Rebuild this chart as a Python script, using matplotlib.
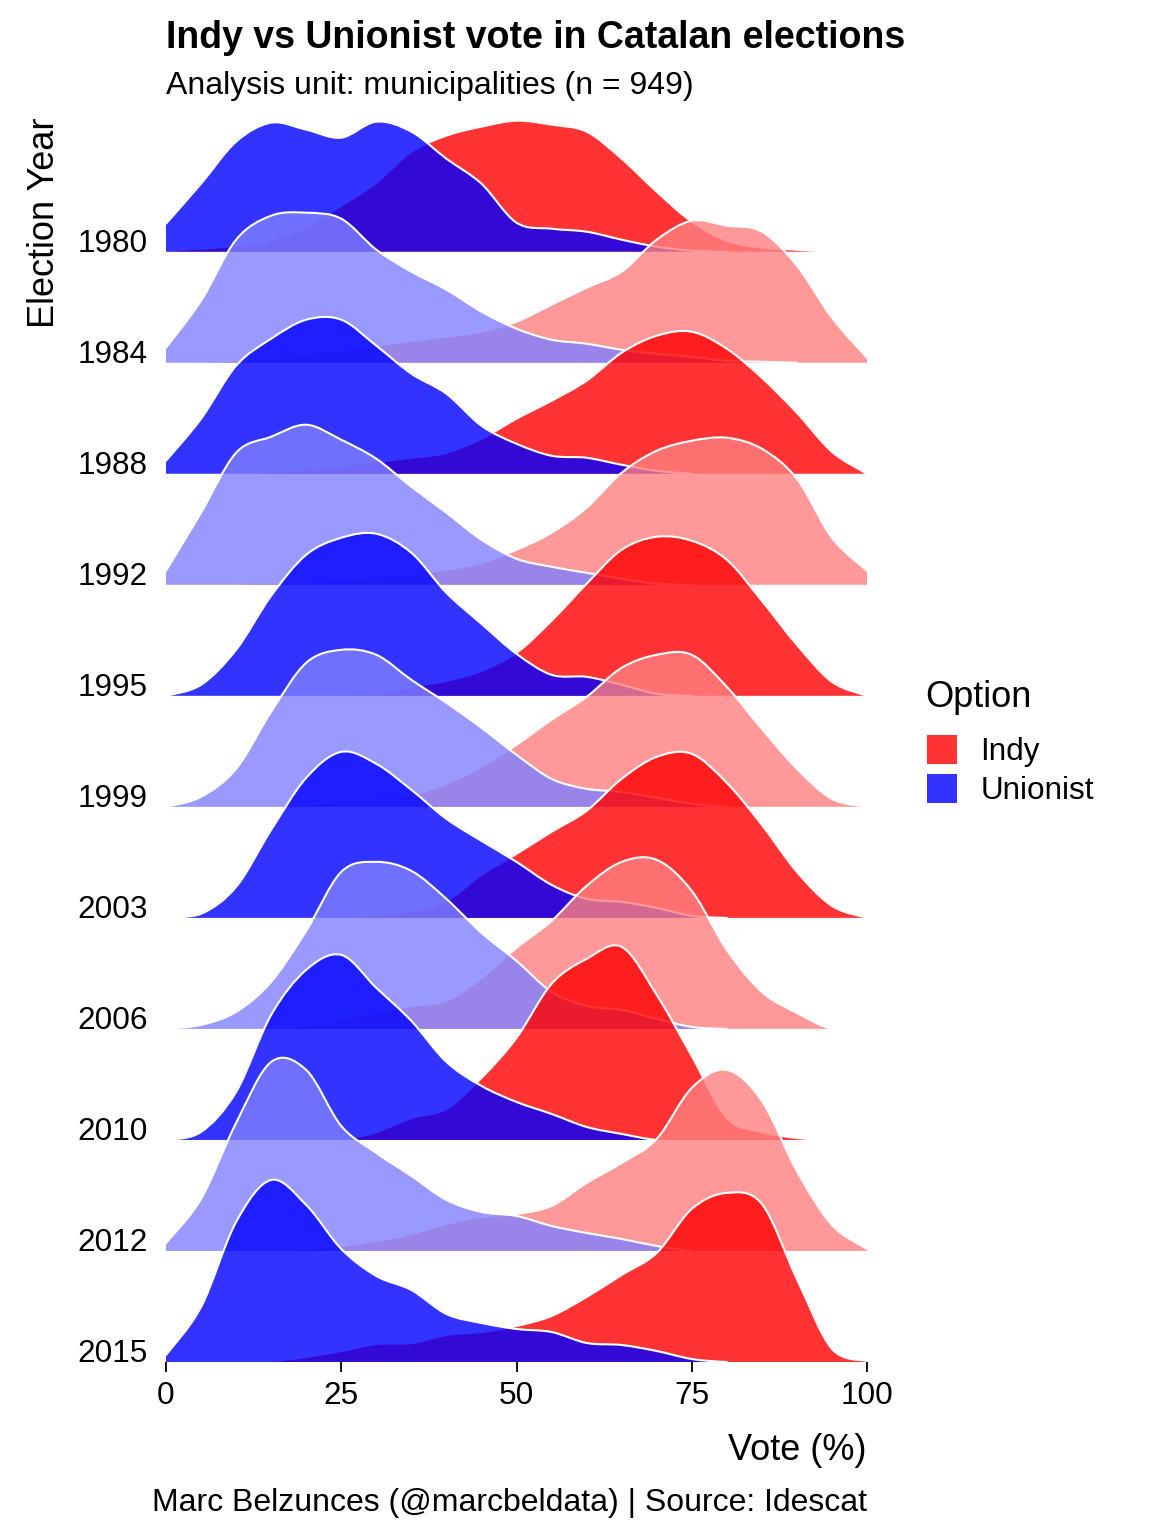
import numpy as np
import matplotlib
matplotlib.use("Agg")
import matplotlib.pyplot as plt
from matplotlib.patches import Patch, PathPatch
from matplotlib.path import Path

plt.rcParams["font.family"] = ["Liberation Sans", "DejaVu Sans"]

# vote share grid (%) where the density curves were read
vote = [0, 5, 10, 15, 20, 25, 30, 35, 40, 45, 50, 55, 60, 65, 70, 75, 80, 85, 90, 95, 100]

years = [1980, 1984, 1988, 1992, 1995, 1999, 2003, 2006, 2010, 2012, 2015]

# density heights (arbitrary units, ~111 units = one ridge step), one row per year
indy_density = [
    [1, 3, 6, 12, 25, 46, 69, 100, 116, 125, 131, 127, 120, 93, 60, 30, 11, 4, 2, 0, 0],
    [0, 1, 2, 4, 8, 13, 17, 22, 26, 31, 41, 58, 75, 91, 123, 142, 137, 131, 97, 45, 5],
    [0, 0, 1, 2, 4, 8, 12, 16, 21, 35, 55, 73, 93, 121, 138, 142, 125, 96, 61, 22, 0],
    [0, 0, 1, 2, 3, 5, 8, 11, 15, 22, 35, 52, 77, 112, 134, 144, 147, 136, 106, 47, 14],
    [0, 0, 0, 0, 0, 1, 2, 9, 15, 25, 43, 75, 112, 146, 159, 155, 136, 95, 51, 14, 0],
    [0, 0, 0, 0, 2, 6, 9, 12, 23, 40, 62, 87, 110, 139, 152, 152, 120, 78, 38, 8, 0],
    [0, 0, 0, 0, 0, 1, 3, 7, 17, 43, 64, 86, 107, 139, 161, 164, 135, 93, 46, 12, 0],
    [0, 0, 0, 0, 3, 9, 17, 23, 28, 51, 81, 108, 143, 167, 169, 138, 79, 37, 16, 0, 0],
    [0, 0, 0, 0, 0, 0, 8, 22, 31, 62, 102, 156, 181, 193, 145, 84, 22, 8, 2, 0, 0],
    [0, 0, 0, 0, 2, 5, 10, 17, 27, 34, 37, 45, 68, 88, 112, 163, 181, 150, 80, 26, 2],
    [0, 0, 0, 1, 5, 11, 18, 19, 27, 30, 36, 46, 65, 87, 109, 153, 169, 158, 83, 13, 1],
]

unionist_density = [
    [28, 68, 110, 129, 122, 114, 130, 120, 93, 68, 29, 23, 20, 12, 5, 1, 0, 0, 0, 0, 0],
    [15, 62, 123, 147, 150, 144, 113, 91, 73, 51, 34, 23, 19, 13, 9, 6, 2, 1, 0, 0, 0],
    [13, 55, 108, 135, 154, 154, 128, 100, 80, 48, 30, 18, 16, 9, 3, 0, 0, 0, 0, 0, 0],
    [14, 72, 132, 148, 160, 145, 126, 98, 72, 45, 26, 18, 12, 6, 1, 0, 0, 0, 0, 0, 0],
    [0, 11, 46, 100, 141, 158, 162, 143, 103, 72, 42, 21, 19, 11, 2, 0, 0, 0, 0, 0, 0],
    [0, 10, 38, 95, 144, 157, 152, 127, 104, 79, 52, 28, 18, 15, 9, 3, 0, 0, 0, 0, 0],
    [0, 4, 31, 88, 140, 166, 154, 128, 99, 77, 56, 33, 19, 16, 10, 2, 0, 0, 0, 0, 0],
    [0, 4, 17, 47, 98, 157, 167, 158, 130, 96, 68, 37, 23, 19, 10, 2, 0, 0, 0, 0, 0],
    [0, 8, 48, 125, 170, 185, 152, 119, 78, 54, 38, 26, 13, 6, 0, 0, 0, 0, 0, 0, 0],
    [8, 52, 128, 189, 181, 125, 98, 75, 51, 39, 35, 25, 18, 12, 5, 0, 0, 0, 0, 0, 0],
    [7, 55, 140, 182, 157, 113, 86, 72, 48, 39, 33, 30, 19, 17, 11, 3, 0, 0, 0, 0, 0],
]

# cyclical fills: dark / light for alternating years
indy_colors = ["#ff0000", "#ff8080"]
unionist_colors = ["#0000ff", "#8080ff"]


def bezier_segments(x, y, base):
    # cubic bezier control points through the read points (Catmull-Rom style)
    n = len(x)
    segs = []
    for i in range(n - 1):
        p0 = (x[max(i - 1, 0)], y[max(i - 1, 0)])
        p1 = (x[i], y[i])
        p2 = (x[i + 1], y[i + 1])
        p3 = (x[min(i + 2, n - 1)], y[min(i + 2, n - 1)])
        c1 = (p1[0] + (p2[0] - p0[0]) / 6, max(p1[1] + (p2[1] - p0[1]) / 6, base))
        c2 = (p2[0] - (p3[0] - p1[0]) / 6, max(p2[1] - (p3[1] - p1[1]) / 6, base))
        segs.append((p1, c1, c2, p2))
    return segs


W, H = 1152, 1536
fig = plt.figure(figsize=(W / 100, H / 100), dpi=100)
ax = fig.add_axes([166 / W, 174 / H, 701 / W, 1262 / H])

scale = 1 / 111.0
x = np.array(vote, dtype=float)
n = len(years)
z = 1
for i, year in enumerate(years):
    base = n - 1 - i
    for dens, cols in ((indy_density, indy_colors), (unionist_density, unionist_colors)):
        d = np.array(dens[i], dtype=float)
        top = base + d * scale
        segs = bezier_segments(x, top, base)

        verts = [(x[0], base), (x[0], top[0])]
        codes = [Path.MOVETO, Path.LINETO]
        for p1, c1, c2, p2 in segs:
            verts += [c1, c2, p2]
            codes += [Path.CURVE4] * 3
        verts += [(x[-1], base), (x[0], base)]
        codes += [Path.LINETO, Path.CLOSEPOLY]
        ax.add_patch(PathPatch(Path(verts, codes), facecolor=cols[i % 2],
                               alpha=0.8, linewidth=0, zorder=z))

        # white outline only where the ridge is above its baseline
        lverts, lcodes = [], []
        open_seg = False
        for k, (p1, c1, c2, p2) in enumerate(segs):
            if d[k] > 0 or d[k + 1] > 0:
                if not open_seg:
                    lverts.append(p1)
                    lcodes.append(Path.MOVETO)
                    open_seg = True
                lverts += [c1, c2, p2]
                lcodes += [Path.CURVE4] * 3
            else:
                open_seg = False
        ax.add_patch(PathPatch(Path(lverts, lcodes), facecolor="none",
                               edgecolor="white", linewidth=1.5, zorder=z + 0.5,
                               capstyle="round"))
        z += 1

ax.set_xlim(0, 100)
ax.set_ylim(0, 1262 / 111.03)
for s in ax.spines.values():
    s.set_visible(False)

ax.set_yticks([n - 1 - i for i in range(n)])
ax.set_yticklabels([str(y) for y in years], fontsize=22.7, va="baseline")
ax.tick_params(axis="y", length=0, pad=13)
ax.set_xticks([0, 25, 50, 75, 100])
ax.set_xticklabels(["0", "25", "50", "75", "100"], fontsize=22.7)
ax.tick_params(axis="x", length=7, width=1.3, pad=7)

fig.text(166 / W, 1 - 38 / H, "Indy vs Unionist vote in Catalan elections",
         fontsize=27, weight="bold", va="center", ha="left")
fig.text(166 / W, 1 - 86 / H, "Analysis unit: municipalities (n = 949)",
         fontsize=23, va="center", ha="left")
fig.text(867 / W, 1 - 1450 / H, "Vote (%)", fontsize=26, va="center", ha="right")
fig.text(45 / W, 1 - 118 / H, "Election Year", fontsize=26, rotation=90,
         va="top", ha="center")
fig.text(867 / W, 1 - 1503 / H, "Marc Belzunces (@marcbeldata) | Source: Idescat",
         fontsize=23, va="center", ha="right")

# legend
fig.text(925 / W, 1 - 698 / H, "Option", fontsize=26, va="center", ha="left")
handles = [Patch(facecolor="#ff0000", alpha=0.8, edgecolor="none"),
           Patch(facecolor="#0000ff", alpha=0.8, edgecolor="none")]
fig.legend(handles, ["Indy", "Unionist"], loc="upper left",
           bbox_to_anchor=(927 / W, 1 - 735 / H), frameon=False, fontsize=22.7,
           handlelength=0.95, handleheight=1.05, handletextpad=0.75,
           labelspacing=0.2, borderpad=0, borderaxespad=0)

fig.savefig("out.png", dpi=100)
